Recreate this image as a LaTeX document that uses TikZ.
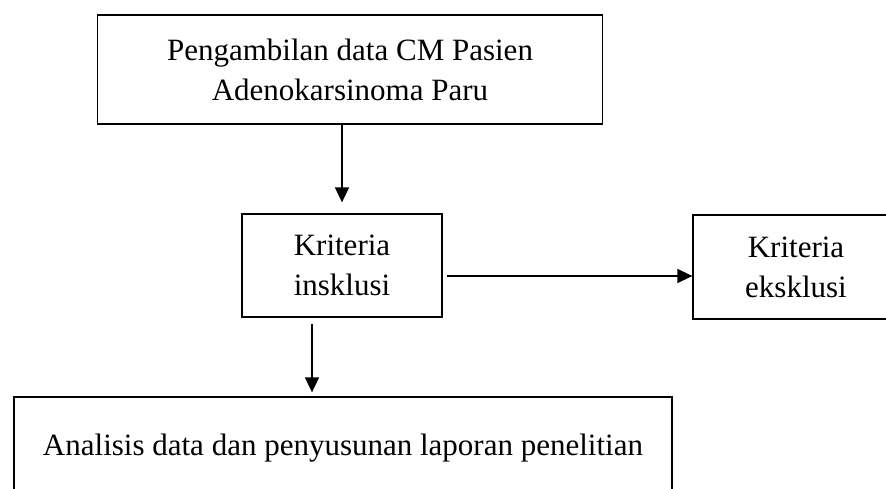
\documentclass[tikz,border=0pt]{standalone}
\usepackage{fontspec}
\setmainfont{Liberation Serif}
\usetikzlibrary{arrows.meta}
\tikzset{
	kotak/.style={draw, line width=1.3pt, align=center, inner sep=0pt, font=\fontsize{31}{40}\selectfont},
	panah/.style={line width=1.7pt, -{Triangle[length=15pt,width=14pt]}}
}
\begin{document}
\begin{tikzpicture}[x=1pt,y=-1pt]
	\useasboundingbox (0,0) rectangle (886,488);
	\node[kotak, minimum width=505pt, minimum height=109pt] (ambil) at (350,69.5) {Pengambilan data CM Pasien\\Adenokarsinoma Paru};
	\node[kotak, minimum width=200pt, minimum height=103pt] (inklusi) at (342,265.5) {Kriteria\\insklusi};
	\node[kotak, minimum width=206pt, minimum height=104pt] (eksklusi) at (796,267) {Kriteria\\eksklusi};
	\node[kotak, minimum width=658pt, minimum height=102pt] (analisis) at (343,448) {Analisis data dan penyusunan laporan penelitian};
	\draw[panah, shorten >=11pt] (ambil.south -| inklusi.north) -- (inklusi.north);
	\draw[panah, shorten <=4pt] ([yshift=-10.5pt]inklusi.east) -- ([yshift=-10.5pt]inklusi.east -| eksklusi.west);
	\draw[panah, shorten <=6pt, shorten >=4pt] ([xshift=-30pt]inklusi.south) -- ([xshift=-30pt]inklusi.south |- analisis.north);
\end{tikzpicture}
\end{document}
